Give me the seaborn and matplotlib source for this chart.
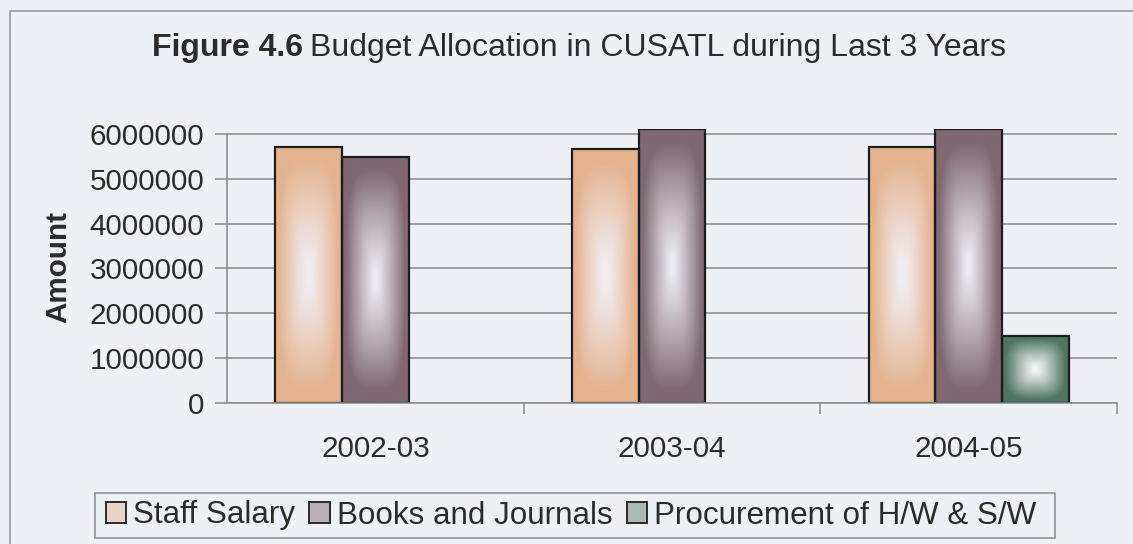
import numpy as np
import pandas as pd
import matplotlib
matplotlib.use("Agg")
import matplotlib.pyplot as plt
import seaborn as sns
from matplotlib.patches import Patch, Rectangle
from matplotlib.colors import to_rgb

# ---- data ----
years = ["2002-03", "2003-04", "2004-05"]
series = ["Staff Salary", "Books and Journals", "Procurement of H/W & S/W"]
staff_salary = [5720000, 5670000, 5720000]
books_journals = [5490000, 6100000, 6100000]
procurement = [None, None, 1500000]
y_ticks = [0, 1000000, 2000000, 3000000, 4000000, 5000000, 6000000]

# ---- style ----
BG = "#edf0f5"
TEXT = "#2b2b2b"
GRID = "#8a8a8a"
edge_colors = ["#E4B38F", "#806972", "#4F7464"]
center_colors = ["#F1EEF2", "#ECE9F0", "#F2F4F5"]
FONT = ["Liberation Sans", "DejaVu Sans"]
FS_TICK = 21.3
FS_TITLE = 23
FS_LEG = 22.6

plt.rcParams["font.family"] = FONT

rows = []
for name, vals in zip(series, [staff_salary, books_journals, procurement]):
    for yr, v in zip(years, vals):
        if v is not None:
            rows.append({"Year": yr, "Series": name, "Amount": v})
df = pd.DataFrame(rows)

W, H = 1133, 544
fig = plt.figure(figsize=(W / 100, H / 100), dpi=100, facecolor=BG)

# outer chart frame
fig.patches.append(Rectangle((10 / W, -0.1), 1.2, (H - 11) / H + 0.1,
                             transform=fig.transFigure, fill=False,
                             edgecolor="#9a9a9a", linewidth=1.2))

ax = fig.add_axes([227 / W, 141 / H, (1117 - 227) / W, (403 - 128.6) / H])
ax.set_facecolor(BG)

sns.barplot(data=df, x="Year", y="Amount", hue="Series", order=years,
            hue_order=series, palette=edge_colors, saturation=1,
            width=0.674, gap=0, edgecolor="#1c1c1c", linewidth=1.6,
            legend=False, ax=ax)

YTOP = 6.12e6
ax.set_xlim(-0.5, 2.5)
ax.set_ylim(0, YTOP)


def gradient_fill(patch, dark, light, n=240, p=3.5):
    """Fill a bar with a soft rectangular gradient, light at the centre."""
    h = patch.get_height()
    if not np.isfinite(h) or h <= 0:
        return
    x0, y0, w = patch.get_x(), patch.get_y(), patch.get_width()
    u = np.linspace(-1, 1, n)
    U, V = np.meshgrid(u, u)
    t = np.clip((np.abs(U) ** p + np.abs(V) ** p) ** (1 / p), 0, 1)
    s = np.clip((t - 0.05) / 0.85, 0, 1) ** 1.1
    d, l = np.array(to_rgb(dark)), np.array(to_rgb(light))
    img = l[None, None, :] * (1 - s[..., None]) + d[None, None, :] * s[..., None]
    im = ax.imshow(img, extent=[x0, x0 + w, y0, y0 + h], origin="lower",
                   aspect="auto", interpolation="bilinear",
                   zorder=patch.get_zorder() - 0.05)
    im.set_clip_path(patch)
    patch.set_facecolor("none")


for i, cont in enumerate(ax.containers):
    for p in cont.patches:
        gradient_fill(p, edge_colors[i], center_colors[i])

ax.set_xlim(-0.5, 2.5)
ax.set_ylim(0, YTOP)

# axes styling
ax.set_yticks(y_ticks)
ax.set_yticklabels([str(v) for v in y_ticks])
ax.yaxis.grid(True, color=GRID, linewidth=1.1)
ax.xaxis.grid(False)
ax.set_axisbelow(True)
for side in ["top", "right"]:
    ax.spines[side].set_visible(False)
ax.spines["left"].set_bounds(0, 6000000)
for side in ["left", "bottom"]:
    ax.spines[side].set_color(GRID)
    ax.spines[side].set_linewidth(1.1)

ax.set_xticks(range(len(years)))
ax.set_xticklabels(years)
ax.set_xticks([0.5, 1.5, 2.5], minor=True)
ax.tick_params(axis="y", length=9, width=1.1, color=GRID, pad=7.5,
               labelsize=FS_TICK, labelcolor=TEXT)
ax.tick_params(axis="x", which="major", length=0, pad=23,
               labelsize=FS_TICK, labelcolor=TEXT)
ax.tick_params(axis="x", which="minor", length=8, width=1.1, color=GRID)
ax.set_xlabel("")
ax.set_ylabel("")

fig.text(58 / W, 1 - 267 / H, "Amount", rotation=90, ha="center",
         va="center", fontsize=FS_TICK, fontweight="bold", color=TEXT)

# title: bold figure number followed by regular text
fig.canvas.draw()
renderer = fig.canvas.get_renderer()
t1 = fig.text(152 / W, 1 - 48 / H, "Figure 4.6", fontsize=FS_TITLE,
              fontweight="bold", color=TEXT, ha="left", va="center")
bb = t1.get_window_extent(renderer)
fig.text((bb.x1 + 7) / W, 1 - 48 / H, "Budget Allocation in CUSATL during Last 3 Years",
         fontsize=FS_TITLE, color=TEXT, ha="left", va="center")

# legend entries (frame drawn separately as a box)
handles = []
for dark, light in zip(edge_colors, center_colors):
    d, l = np.array(to_rgb(dark)), np.array(to_rgb(light))
    handles.append(Patch(facecolor=0.45 * d + 0.55 * l, edgecolor="#2a2a2a",
                         linewidth=1.4))
leg = fig.legend(handles, series, loc="center", ncol=3,
                 bbox_to_anchor=(571 / W, 1 - 515.5 / H), frameon=False,
                 fontsize=FS_LEG, handlelength=0.65, handleheight=0.65,
                 handletextpad=0.22, columnspacing=0.45, borderpad=0.2,
                 borderaxespad=0, labelcolor=TEXT)
fig.patches.append(Rectangle((95 / W, 1 - 538 / H), (1055 - 95) / W, 45 / H,
                             transform=fig.transFigure, facecolor=BG,
                             edgecolor="#8a8a8a", linewidth=1.1, zorder=0))

fig.savefig("out.png", dpi=100, facecolor=BG)
